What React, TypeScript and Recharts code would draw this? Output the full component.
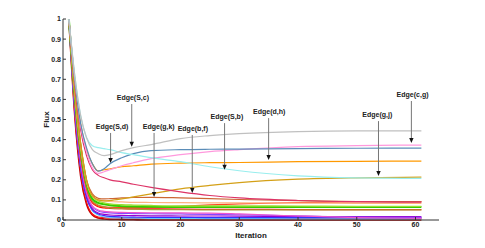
import {
    LineChart,
    Line,
    XAxis,
    YAxis,
    ReferenceLine,
    ReferenceDot,
    Label
} from "recharts";

const iterations = [1, 2, 3, 4, 5, 6, 7, 8, 10, 12, 15, 20, 25, 30, 40, 50, 61];

const gray = [1, 0.72, 0.52, 0.41, 0.35, 0.33, 0.32, 0.325, 0.345, 0.36, 0.375, 0.405, 0.42, 0.43, 0.44, 0.443, 0.443];
const cyan = [1, 0.72, 0.52, 0.41, 0.37, 0.36, 0.355, 0.35, 0.335, 0.325, 0.31, 0.29, 0.265, 0.245, 0.22, 0.21, 0.207];
const steel = [1, 0.7, 0.48, 0.36, 0.28, 0.243, 0.255, 0.28, 0.31, 0.33, 0.345, 0.35, 0.352, 0.353, 0.355, 0.357, 0.358];
const pink = [1, 0.7, 0.47, 0.34, 0.26, 0.232, 0.24, 0.25, 0.27, 0.285, 0.305, 0.325, 0.34, 0.35, 0.365, 0.37, 0.373];
const orange = [1, 0.7, 0.48, 0.35, 0.28, 0.244, 0.25, 0.255, 0.265, 0.27, 0.278, 0.283, 0.285, 0.286, 0.29, 0.292, 0.293];
const crimson = [1, 0.68, 0.45, 0.32, 0.25, 0.222, 0.21, 0.2, 0.19, 0.178, 0.162, 0.14, 0.122, 0.11, 0.097, 0.091, 0.089];
const gold = [1, 0.65, 0.38, 0.2, 0.12, 0.1, 0.095, 0.097, 0.105, 0.115, 0.13, 0.155, 0.172, 0.186, 0.203, 0.21, 0.213];
const sienna = [1, 0.65, 0.38, 0.2, 0.13, 0.108, 0.105, 0.106, 0.11, 0.112, 0.113, 0.11, 0.106, 0.102, 0.096, 0.092, 0.091];
const peach = [1, 0.63, 0.36, 0.19, 0.12, 0.1, 0.095, 0.092, 0.09, 0.088, 0.087, 0.086, 0.085, 0.085, 0.084, 0.083, 0.083];
const yellowGreen = [1, 0.64, 0.38, 0.2, 0.12, 0.095, 0.085, 0.08, 0.076, 0.074, 0.072, 0.07, 0.07, 0.07, 0.069, 0.068, 0.068];
const green = [1, 0.62, 0.35, 0.18, 0.105, 0.085, 0.078, 0.073, 0.069, 0.067, 0.066, 0.065, 0.065, 0.065, 0.065, 0.065, 0.065];
const olive = [1, 0.6, 0.33, 0.17, 0.095, 0.075, 0.066, 0.06, 0.056, 0.054, 0.052, 0.051, 0.05, 0.05, 0.05, 0.05, 0.05];
const redOrange = [1, 0.6, 0.32, 0.16, 0.09, 0.07, 0.065, 0.063, 0.062, 0.062, 0.063, 0.068, 0.075, 0.08, 0.087, 0.09, 0.091];
const red = [1, 0.6, 0.32, 0.16, 0.085, 0.066, 0.06, 0.058, 0.056, 0.055, 0.055, 0.054, 0.053, 0.053, 0.052, 0.052, 0.052];
const magenta = [1, 0.58, 0.3, 0.14, 0.07, 0.05, 0.043, 0.04, 0.038, 0.037, 0.036, 0.035, 0.034, 0.03, 0.02, 0.012, 0.008];
const purple = [1, 0.57, 0.28, 0.13, 0.065, 0.045, 0.038, 0.035, 0.033, 0.032, 0.031, 0.03, 0.028, 0.026, 0.02, 0.015, 0.013];
const violet = [1, 0.56, 0.27, 0.12, 0.055, 0.035, 0.028, 0.025, 0.023, 0.022, 0.021, 0.02, 0.02, 0.019, 0.018, 0.017, 0.017];
const blue = [1, 0.55, 0.26, 0.11, 0.05, 0.03, 0.022, 0.018, 0.015, 0.014, 0.013, 0.013, 0.012, 0.012, 0.012, 0.012, 0.012];
const skyBlue = [1, 0.55, 0.26, 0.11, 0.045, 0.025, 0.015, 0.012, 0.01, 0.009, 0.008, 0.008, 0.007, 0.007, 0.006, 0.006, 0.006];
const red2 = [1, 0.53, 0.24, 0.09, 0.03, 0.015, 0.012, 0.01, 0.009, 0.008, 0.008, 0.008, 0.008, 0.008, 0.008, 0.008, 0.008];
const darkRed = [1, 0.52, 0.22, 0.08, 0.025, 0.01, 0.005, 0.003, 0.002, 0.001, 0, 0, 0, 0, 0, 0, 0];

const SERIES = [
    { key: "darkRed", values: darkRed, color: "#c00000", width: 1.6 },
    { key: "red2", values: red2, color: "#ff1010", width: 1.2 },
    { key: "skyBlue", values: skyBlue, color: "#66ccff", width: 1.2 },
    { key: "blue", values: blue, color: "#3333ff", width: 1.2 },
    { key: "violet", values: violet, color: "#9900cc", width: 1.2 },
    { key: "purple", values: purple, color: "#8844ff", width: 1.2 },
    { key: "magenta", values: magenta, color: "#ee55cc", width: 1.2 },
    { key: "red", values: red, color: "#ff0000", width: 1.2 },
    { key: "redOrange", values: redOrange, color: "#ff4422", width: 1.2 },
    { key: "olive", values: olive, color: "#aa9933", width: 1.2 },
    { key: "green", values: green, color: "#33cc00", width: 2 },
    { key: "yellowGreen", values: yellowGreen, color: "#99dd33", width: 1.4 },
    { key: "peach", values: peach, color: "#ffb380", width: 1.2 },
    { key: "sienna", values: sienna, color: "#cc6633", width: 1.2 },
    { key: "gold", values: gold, color: "#d4a017", width: 1.2 },
    { key: "crimson", values: crimson, color: "#dd3366", width: 1.2 },
    { key: "orange", values: orange, color: "#ff9900", width: 1.2 },
    { key: "pink", values: pink, color: "#ff99dd", width: 1.2 },
    { key: "steel", values: steel, color: "#5b8db8", width: 1.2 },
    { key: "cyan", values: cyan, color: "#99eeee", width: 1.2 },
    { key: "gray", values: gray, color: "#c0c0c0", width: 1.2 }
];

// annotation labels: text, label position, arrow x and arrow tip
const labelText = ["Edge(S,c)", "Edge(S,d)", "Edge(g,k)", "Edge(b,f)", "Edge(S,b)", "Edge(d,h)", "Edge(g,j)", "Edge(c,g)"];
const labelX = [11.9, 8.35, 16.3, 22.1, 27.9, 35.1, 53.5, 59.5];
const labelY = [0.607, 0.463, 0.463, 0.453, 0.512, 0.537, 0.522, 0.622];
const arrowX = [11.7, 8.1, 15.5, 22, 27.5, 35, 53.7, 59.3];
const arrowTip = [0.365, 0.283, 0.115, 0.134, 0.25, 0.298, 0.219, 0.383];

const xTicks = [0, 10, 20, 30, 40, 50, 60];
const yTicks = [0, 0.1, 0.2, 0.3, 0.4, 0.5, 0.6, 0.7, 0.8, 0.9, 1];

const data = iterations.map((it, i) => {
    const row: Record<string, number> = { iteration: it };
    SERIES.forEach((s) => {
        row[s.key] = s.values[i];
    });
    return row;
});

const FONT = "'Liberation Sans', Arial, sans-serif";
const tickStyle = { fontSize: 7, fontWeight: 700, fill: "#222", fontFamily: FONT };

const ArrowHead = (props: any) => {
    const { cx, cy } = props;
    return <path d={`M${cx},${cy} L${cx - 2.2},${cy - 5} L${cx + 2.2},${cy - 5} Z`} fill="#111" />;
};

const LabelText = (text: string) => (props: any) => {
    const { cx, cy } = props;
    return (
        <text x={cx} y={cy} textAnchor="middle" dominantBaseline="middle"
            style={{ fontSize: 7, fontWeight: 700, fill: "#222", fontFamily: FONT }}>
            {text}
        </text>
    );
};

const App = () => {
    return (
        <div style={{ position: "absolute", left: 0, top: 0, background: "#fff" }}>
            <LineChart width={485} height={248} data={data}
                margin={{ top: 19, right: 46, left: 0, bottom: 0 }}>
                <XAxis dataKey="iteration" type="number" domain={[0, 64]} ticks={xTicks}
                    height={28} tickSize={-3} tickMargin={5} tick={tickStyle}
                    stroke="#333" interval={0}>
                    <Label value="Iteration" position="insideBottom" offset={10}
                        style={{ fontSize: 8, fontWeight: 700, fill: "#222", fontFamily: FONT }} />
                </XAxis>
                <XAxis xAxisId="top" orientation="top" dataKey="iteration" type="number"
                    domain={[0, 64]} ticks={xTicks} height={0} tickSize={-3} tick={false} stroke="#333" />
                <YAxis type="number" domain={[0, 1]} ticks={yTicks} width={63}
                    tickSize={-3} tickMargin={5} tick={tickStyle} stroke="#333" interval={0}>
                    <Label value="Flux" angle={-90} position="insideLeft" offset={46}
                        style={{ fontSize: 8, fontWeight: 700, fill: "#222", fontFamily: FONT, textAnchor: "middle" }} />
                </YAxis>
                <YAxis yAxisId="right" orientation="right" type="number" domain={[0, 1]} ticks={yTicks}
                    width={0} tickSize={-3} tick={false} stroke="#333" />
                {SERIES.map((s) => (
                    <Line key={s.key} type="monotone" dataKey={s.key} stroke={s.color}
                        strokeWidth={s.width} dot={false} isAnimationActive={false} />
                ))}
                {labelText.map((t, i) => (
                    <ReferenceLine key={`seg-${i}`}
                        segment={[{ x: arrowX[i], y: labelY[i] - 0.03 }, { x: arrowX[i], y: arrowTip[i] + 0.02 }]}
                        stroke="#777" strokeWidth={1} />
                ))}
                {labelText.map((t, i) => (
                    <ReferenceDot key={`tip-${i}`} x={arrowX[i]} y={arrowTip[i]} r={0} shape={ArrowHead} />
                ))}
                {labelText.map((t, i) => (
                    <ReferenceDot key={`lab-${i}`} x={labelX[i]} y={labelY[i]} r={0} shape={LabelText(t)} />
                ))}
            </LineChart>
        </div>
    );
};

export default App;
